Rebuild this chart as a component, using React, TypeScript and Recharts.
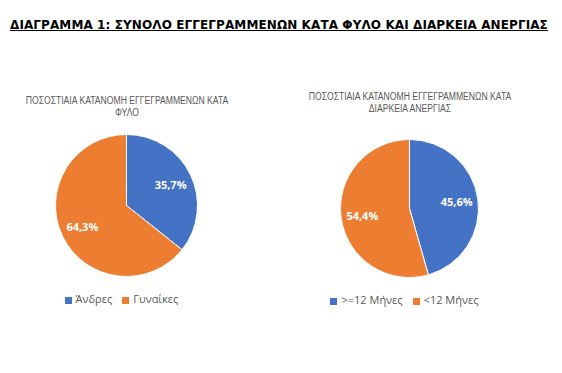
import { PieChart, Pie, Cell, Legend } from 'recharts';

const sexLabels = ['Άνδρες', 'Γυναίκες'];
const sexValues = [35.7, 64.3];
const durationLabels = ['>=12 Μήνες', '<12 Μήνες'];
const durationValues = [45.6, 54.4];
const sliceColors = ['#4472C4', '#ED7D31'];

const mainTitle = 'ΔΙΑΓΡΑΜΜΑ 1: ΣΥΝΟΛΟ ΕΓΓΕΓΡΑΜΜΕΝΩΝ ΚΑΤΑ ΦΥΛΟ ΚΑΙ ΔΙΑΡΚΕΙΑ ΑΝΕΡΓΙΑΣ';
const sexTitle = ['ΠΟΣΟΣΤΙΑΙΑ ΚΑΤΑΝΟΜΗ ΕΓΓΕΓΡΑΜΜΕΝΩΝ ΚΑΤΑ', 'ΦΥΛΟ'];
const durationTitle = ['ΠΟΣΟΣΤΙΑΙΑ ΚΑΤΑΝΟΜΗ ΕΓΓΕΓΡΑΜΜΕΝΩΝ ΚΑΤΑ', 'ΔΙΑΡΚΕΙΑ ΑΝΕΡΓΙΑΣ'];

const RAD = Math.PI / 180;

// white percentage label inside each slice
const renderLabel = ({ cx, cy, midAngle, outerRadius, value }: any) => {
  const r = outerRadius * 0.69;
  const x = cx + r * Math.cos(-midAngle * RAD);
  const y = cy + r * Math.sin(-midAngle * RAD);
  return (
    <text
      x={x}
      y={y}
      fill="#fff"
      textAnchor="middle"
      dominantBaseline="central"
      fontSize={11}
      fontWeight="bold"
      fontFamily="'Open Sans', sans-serif"
    >
      {value.toFixed(1).replace('.', ',')}%
    </text>
  );
};

function SmallPie({
  labels,
  values,
  title,
  left,
  cx,
  cy,
  radius,
  titleTop,
  legendTop,
}: {
  labels: string[];
  values: number[];
  title: string[];
  left: number;
  cx: number;
  cy: number;
  radius: number;
  titleTop: number;
  legendTop: number;
}) {
  const data = labels.map((name, i) => ({ name, value: values[i] }));
  return (
    <div style={{ position: 'absolute', left, top: 0, width: 281, height: 373 }}>
      <div
        style={{
          position: 'absolute',
          top: titleTop,
          left: cx - 140,
          width: 280,
          textAlign: 'center',
          color: '#595959',
          fontFamily: "'Liberation Sans', sans-serif",
          fontSize: 10,
          lineHeight: '12px',
          transform: 'scaleX(0.86)',
        }}
      >
        {title.map((t) => (
          <div key={t}>{t}</div>
        ))}
      </div>
      <PieChart width={281} height={373} margin={{ top: 0, right: 0, bottom: 0, left: 0 }}>
        <Pie
          data={data}
          dataKey="value"
          cx={cx}
          cy={cy}
          outerRadius={radius}
          startAngle={90}
          endAngle={-270}
          stroke="#fff"
          strokeWidth={1}
          label={renderLabel}
          labelLine={false}
          isAnimationActive={false}
        >
          {data.map((d, i) => (
            <Cell key={d.name} fill={sliceColors[i]} />
          ))}
        </Pie>
        <Legend
          iconType="square"
          iconSize={7}
          itemSorter={() => 0}
          wrapperStyle={{
            position: 'absolute',
            top: legendTop,
            left: cx - 140,
            width: 280,
            fontFamily: "'Open Sans', sans-serif",
            fontSize: 11,
            color: '#595959',
          }}
          formatter={(v: string) => <span style={{ color: '#595959' }}>{v}</span>}
        />
      </PieChart>
    </div>
  );
}

export default function App() {
  return (
    <div
      style={{
        position: 'absolute',
        left: 0,
        top: 0,
        width: 562,
        height: 373,
        background: '#fff',
        overflow: 'hidden',
      }}
    >
      <div
        style={{
          position: 'absolute',
          left: 10,
          top: 18,
          fontFamily: "'DejaVu Sans', Verdana, sans-serif",
          fontWeight: 'bold',
          fontSize: 12,
          letterSpacing: 0.1,
          textDecoration: 'underline',
          color: '#000',
          whiteSpace: 'nowrap',
        }}
      >
        {mainTitle}
      </div>
      <SmallPie
        labels={sexLabels}
        values={sexValues}
        title={sexTitle}
        left={0}
        cx={126.5}
        cy={205.5}
        radius={71}
        titleTop={95}
        legendTop={291}
      />
      <SmallPie
        labels={durationLabels}
        values={durationValues}
        title={durationTitle}
        left={281}
        cx={128.5}
        cy={208.5}
        radius={69}
        titleTop={91}
        legendTop={292}
      />
    </div>
  );
}
